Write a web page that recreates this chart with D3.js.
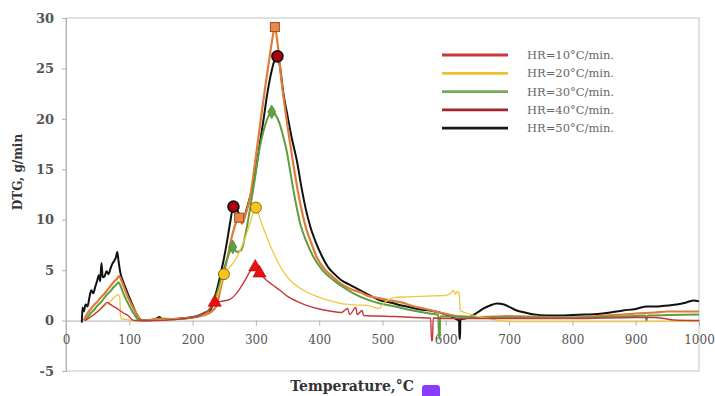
<!DOCTYPE html>
<html><head><meta charset="utf-8">
<script src="https://cdn.jsdelivr.net/npm/d3@7"></script>
<style>body{margin:0;background:#fff}svg{display:block}</style>
</head><body><svg id="c" width="715" height="396"></svg>
<script>
// ---- data: [temperature °C, DTG g/min] ----
const hr10 = [[30,0],[40,0.4],[50,0.9],[58,1.4],[65,1.8],[70,1.6],[78,1.3],[85,1.0],[92,0.7],[98,0.5],[104,0.1],[110,0],[140,0],[170,0.1],[200,0.3],[215,0.6],[225,1.0],[235,1.8],[245,1.9],[259,2.1],[268,2.6],[275,3.2],[283,4.0],[291,4.9],[296,5.3],[299,5.3],[305.7,4.7],[315,4.1],[325,3.6],[338,3.0],[350,2.4],[365,1.9],[380,1.5],[400,1.15],[417,0.95],[435,0.8],[445,1.2],[448,0.6],[458,1.3],[460,0.6],[468,1.0],[470,0.5],[490,0.45],[520,0.4],[550,0.3],[576,0.25],[577.5,-2.0],[579,-2.0],[580,0.25],[600,0.2],[650,0.2],[700,0.2],[800,0.2],[900,0.3],[930,0.3],[945,0.2],[960,0.05],[1000,0]];
const hr20 = [[30,0],[40,0.4],[50,0.9],[60,1.4],[70,1.9],[78,2.4],[82,2.6],[85,2.3],[86,0.6],[88,0.2],[95,0.1],[110,0],[140,0.05],[170,0.15],[200,0.3],[220,0.7],[232,1.6],[240,2.6],[249.5,4.6],[259,5.3],[270,6.3],[280,7.7],[291,9.7],[300,11.2],[305,10.4],[311,9.3],[317,8.3],[325,7.1],[333,6.0],[345,4.7],[359,3.7],[375,3.0],[396,2.4],[415,2.0],[433,1.7],[455,1.55],[475,1.5],[488,1.3],[495,1.2],[500,1.6],[508,2.0],[520,2.3],[540,2.35],[560,2.4],[580,2.45],[600,2.5],[608,2.7],[612,3.0],[615,2.6],[618,2.9],[621,2.7],[623,1.0],[630,0.8],[645,0.5],[660,0.3],[680,0.05],[700,-0.1],[800,-0.1],[900,-0.1],[1000,-0.05]];
const hr30 = [[30,0],[35,0.4],[40,0.8],[45,1.1],[50,1.5],[55,1.8],[60,2.2],[65,2.6],[70,2.9],[75,3.3],[80,3.6],[83,3.8],[87,3.3],[92,2.5],[98,1.7],[104,1.0],[110,0.4],[115,0.05],[130,0],[150,0.1],[175,0.15],[200,0.3],[215,0.6],[225,1.0],[233,1.8],[240,3.0],[247,4.6],[255,6.2],[263.5,7.3],[270,6.8],[277,7.0],[283,8.4],[290,10.8],[297,13.5],[305,16.8],[312,18.8],[318,20.0],[325,20.7],[331,20.4],[337,19.6],[343,18.3],[349,16.7],[355,14.5],[362,12.0],[370,9.6],[380,7.8],[391,6.3],[405,5.0],[422.6,4.0],[438,3.3],[454,2.7],[475,2.1],[496,1.7],[520,1.4],[540,1.1],[560,0.85],[575,0.7],[588,0.55],[589.5,-1.8],[590.5,-1.8],[591,0.4],[610,0.4],[640,0.35],[680,0.3],[720,0.3],[760,0.3],[800,0.3],[850,0.35],[900,0.45],[915,0.5],[917,0],[919,0.5],[950,0.55],[1000,0.6]];
const hr40 = [[28,0],[32,0.5],[36,0.9],[40,1.2],[45,1.6],[50,1.9],[55,2.3],[60,2.6],[65,3.0],[70,3.4],[75,3.8],[80,4.1],[84,4.4],[88,3.9],[93,3.1],[98,2.3],[105,1.4],[112,0.6],[118,0.05],[130,0.05],[150,0.2],[170,0.15],[190,0.25],[210,0.4],[225,0.7],[232,1.0],[238,1.5],[243,2.8],[248.7,4.4],[255,6.2],[262,8.3],[268,9.6],[273.5,10.2],[278,9.6],[284,10.6],[291,12.3],[299,15.8],[307,19.6],[315,23.3],[322.5,26.5],[327,28.3],[330,29.1],[334,27.6],[340,24.0],[347,20.6],[354,17.6],[362,14.4],[370,11.6],[380,9.0],[388,7.6],[396,6.3],[410,5.0],[422,4.3],[433,3.7],[450,3.1],[465,2.8],[475,2.5],[496,2.2],[512,2.0],[530,1.8],[550,1.4],[565,1.2],[575,1.05],[590,0.8],[605,0.6],[615,0.45],[628,0.4],[650,0.35],[680,0.4],[700,0.45],[730,0.4],[760,0.35],[800,0.3],[830,0.4],[850,0.5],[880,0.6],[900,0.7],[930,0.8],[950,0.9],[975,0.9],[1000,0.9]];
const hr50 = [[25,-0.2],[26,1.3],[28,0.9],[31,1.6],[34,1.4],[37,2.3],[40,3.0],[43,2.7],[46,3.3],[49,3.9],[52,4.5],[54,3.9],[56,5.7],[58,4.3],[61,4.4],[64,4.9],[67,4.6],[70,5.1],[73,5.6],[76,5.9],[79,6.3],[81,6.8],[83,5.9],[86,4.7],[90,3.9],[95,3.1],[100,2.3],[106,1.4],[111,0.7],[116,0.2],[120,0],[130,0.05],[140,0.1],[148,0.35],[152,0.1],[165,0.15],[180,0.2],[195,0.3],[210,0.5],[220,0.8],[228,1.05],[236,2.5],[243.5,4.4],[249,6.0],[254,7.7],[259,9.6],[264.5,11.3],[270,11.0],[275,10.4],[280,10.0],[286,11.2],[291,12.3],[296,13.6],[304,16.6],[312,19.9],[318,22.5],[325,24.8],[330,25.9],[334,26.2],[338,25.2],[343,22.7],[350,20.3],[357,18.0],[364.6,15.9],[372,13.2],[379,11.0],[386,9.3],[395,7.7],[405,6.3],[414,5.3],[422.6,4.7],[435,4.0],[450,3.5],[465,3.0],[480,2.5],[496,2.0],[512,1.8],[530,1.5],[545,1.3],[560,1.1],[575,1.0],[590,0.8],[600,0.6],[610,0.35],[618,0.1],[621,0],[621.5,-1.8],[622.5,-1.8],[623,0.1],[630,0.2],[640,0.4],[650,0.8],[660,1.2],[670,1.5],[681,1.7],[692,1.6],[702,1.3],[712,1.0],[725,0.8],[740,0.6],[760,0.5],[780,0.5],[800,0.55],[820,0.6],[840,0.65],[860,0.8],[880,1.0],[900,1.15],[918,1.4],[935,1.4],[950,1.5],[965,1.6],[980,1.8],[992,2.0],[1000,1.9]];
// marker points
const mk10 = [[235,1.8],[299,5.3],[305.7,4.7]];
const mk20 = [[249.5,4.6],[300,11.2]];
const mk30 = [[263.5,7.3],[325,20.7]];
const mk40 = [[273.5,10.2],[330,29.1]];
const mk50 = [[264.5,11.3],[334,26.2]];
const legendLabels = ["HR=10°C/min.","HR=20°C/min.","HR=30°C/min.","HR=40°C/min.","HR=50°C/min."];
const legendColors = ["#c8373a","#f0c030","#78aa55","#a3262f","#1a1a1a"];
const xTicks = [0,100,200,300,400,500,600,700,800,900,1000];
const yTicks = [-5,0,5,10,15,20,25,30];

const svg = d3.select("#c");
const x = d3.scaleLinear([0,1000],[66,699]);
const y = d3.scaleLinear([-5,30],[371,18]);
const F = "'DejaVu Serif', 'Liberation Serif', serif";

// frame
svg.append("rect").attr("x",x(0)).attr("y",y(30)).attr("width",x(1000)-x(0)).attr("height",y(-5)-y(30))
  .attr("fill","none").attr("stroke","#c4c4c4").attr("stroke-width",1);

// y axis
const ya = svg.append("g").attr("transform",`translate(${x(0)},0)`)
  .call(d3.axisLeft(y).tickValues(yTicks).tickSize(4).tickPadding(8).tickFormat(d=>String(d)));
ya.select(".domain").attr("stroke","#b0b0b0");
ya.selectAll(".tick line").attr("stroke","#b0b0b0");
ya.selectAll("text").attr("font-family",F).attr("font-size",13).attr("font-weight","bold").attr("fill","#555");

// x axis at y=0
const xa = svg.append("g").attr("transform",`translate(0,${y(0)})`)
  .call(d3.axisBottom(x).tickValues(xTicks).tickSize(5).tickPadding(10).tickFormat(d=>String(d)));
xa.select(".domain").attr("stroke","#b0b0b0");
xa.selectAll(".tick line").attr("stroke","#b0b0b0");
xa.selectAll("text").attr("font-family",F).attr("font-size",12).attr("fill","#555");

// titles
svg.append("text").attr("x",352).attr("y",391).attr("text-anchor","middle")
  .attr("font-family",F).attr("font-size",14).attr("font-weight","bold").attr("fill","#333").text("Temperature,°C");
svg.append("text").attr("transform","translate(22,172) rotate(-90)").attr("text-anchor","middle")
  .attr("font-family",F).attr("font-size",12).attr("font-weight","bold").attr("fill","#333").text("DTG, g/min");

// lines
const line = d3.line().x(d=>x(d[0])).y(d=>y(d[1])).curve(d3.curveMonotoneX);
const series = [
  {d:hr50,c:"#111111",w:2},
  {d:hr40,c:"#e07b39",w:2.2},
  {d:hr30,c:"#5e9e3c",w:2},
  {d:hr20,c:"#f2c63a",w:1.3},
  {d:hr10,c:"#c8373a",w:1.4}
];
svg.append("g").selectAll("path").data(series).join("path")
  .attr("d",s=>line(s.d)).attr("fill","none").attr("stroke",s=>s.c).attr("stroke-width",s=>s.w).attr("stroke-linejoin","round");

// markers
const g = svg.append("g");
const tri = d3.symbol().type(d3.symbolTriangle).size(75);
g.selectAll(".m10").data(mk10).join("path").attr("transform",d=>`translate(${x(d[0])},${y(d[1])})`)
  .attr("d",tri).attr("fill","#e81010").attr("stroke","#b00000").attr("stroke-width",0.6);
g.selectAll(".m20").data(mk20).join("circle").attr("cx",d=>x(d[0])).attr("cy",d=>y(d[1])).attr("r",5.5)
  .attr("fill","#f7c51e").attr("stroke","#8a6a10").attr("stroke-width",1);
const dia = d3.symbol().type(d3.symbolDiamond).size(55);
g.selectAll(".m30").data(mk30).join("path").attr("transform",d=>`translate(${x(d[0])},${y(d[1])})`)
  .attr("d",dia).attr("fill","#5fa040").attr("stroke","#3f7a28").attr("stroke-width",0.6);
g.selectAll(".m40").data(mk40).join("rect").attr("x",d=>x(d[0])-4.5).attr("y",d=>y(d[1])-4.5).attr("width",9).attr("height",9)
  .attr("fill","#e8884a").attr("stroke","#9a5020").attr("stroke-width",1);
g.selectAll(".m50").data(mk50).join("circle").attr("cx",d=>x(d[0])).attr("cy",d=>y(d[1])).attr("r",5.5)
  .attr("fill","#b00010").attr("stroke","#111").attr("stroke-width",1.6);

// legend
const lg = svg.append("g");
legendLabels.forEach((t,i)=>{
  const yy = 55 + i*18.3;
  lg.append("line").attr("x1",442).attr("x2",508).attr("y1",yy).attr("y2",yy).attr("stroke",legendColors[i]).attr("stroke-width",2.8);
  lg.append("text").attr("x",527).attr("y",yy+4).attr("font-family",F).attr("font-size",11.5).attr("fill","#666").text(t);
});

// small purple badge at bottom
svg.append("rect").attr("x",422).attr("y",385).attr("width",18).attr("height",14).attr("rx",3).attr("fill","#8b3dff");
</script></body></html>
